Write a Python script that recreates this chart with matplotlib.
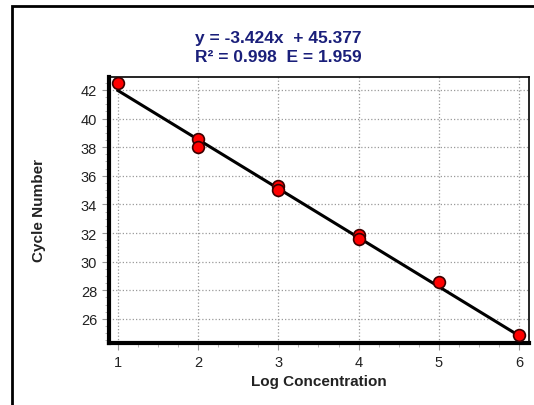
import matplotlib
matplotlib.use("Agg")
import matplotlib.pyplot as plt
import numpy as np
from matplotlib.ticker import MultipleLocator
from matplotlib.patches import Rectangle

# standard curve points
log_conc = [1, 2, 2, 3, 3, 4, 4, 5, 6]
cycle_num = [42.5, 38.6, 38.0, 35.3, 35.0, 31.85, 31.6, 28.55, 24.9]
slope = -3.424
intercept = 45.377
r2 = 0.998
eff = 1.959

plt.rcParams['font.family'] = ['Liberation Sans', 'DejaVu Sans']

fig = plt.figure(figsize=(5.34, 4.06), dpi=100)
ax = fig.add_axes([109/534, 1 - 344/406, 420/534, 266/406])

# outer frame
fig.patches.append(Rectangle((12/534, -0.1), 1.2, 1 - 7/406 + 0.1, transform=fig.transFigure,
                             fill=False, lw=2, ec='black'))

xs = np.array([1, 6])
ax.plot(xs, slope * xs + intercept, color='black', lw=2.2, zorder=3)
ax.scatter(log_conc, cycle_num, s=72, c='red', edgecolors='#3a0000', linewidths=1.2, zorder=4)

ax.set_xlim(0.888, 6.125)
ax.set_ylim(24.32, 42.9)
ax.xaxis.set_major_locator(MultipleLocator(1))
ax.xaxis.set_minor_locator(MultipleLocator(0.25))
ax.yaxis.set_major_locator(MultipleLocator(2))
ax.yaxis.set_minor_locator(MultipleLocator(0.5))
ax.grid(True, which='major', ls=':', color='#999999', lw=0.9)
ax.tick_params(which='both', direction='out', labelsize=10.5, labelcolor='#222222')
ax.tick_params(which='major', length=5, color='#999999')
ax.tick_params(which='minor', length=3, color='#aaaaaa')
ax.spines['left'].set_linewidth(3)
ax.spines['bottom'].set_linewidth(3)
ax.spines['top'].set_linewidth(1.2)
ax.spines['right'].set_linewidth(1.2)

ax.set_xlabel('Log Concentration', fontsize=11, fontweight='bold', color='#222222')
ax.set_ylabel('Cycle Number', fontsize=11, fontweight='bold', color='#222222', labelpad=25)

fig.text(278/534, 1 - 38/406, f'y = {slope:.3f}x  + {intercept:.3f}', ha='center', va='center',
         fontsize=12.5, fontweight='bold', color='#1a1f7a')
fig.text(278/534, 1 - 58/406, f'R\u00b2 = {r2:.3f}  E = {eff:.3f}', ha='center', va='center',
         fontsize=12.5, fontweight='bold', color='#1a1f7a')

fig.savefig('out.png', dpi=100)
